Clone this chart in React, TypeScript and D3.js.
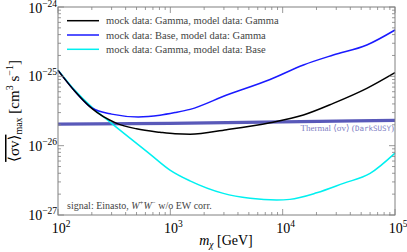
import React, { useEffect, useRef } from 'react';
import * as d3 from 'd3';

// masses in GeV, cross sections in cm^3 s^-1
const massGG = [100, 140, 200, 333, 500, 808, 1100, 1500, 3177, 7730, 15300, 28200, 56100, 100000];
const sigmaGG = [1.22e-25, 6.2e-26, 3.45e-26, 2.1e-26, 1.75e-26, 1.56e-26, 1.48e-26, 1.46e-26, 1.7e-26, 2.14e-26, 2.77e-26, 4.07e-26, 6.7e-26, 1.13e-25];

const massBG = [100, 140, 200, 300, 518, 808, 1100, 1500, 3177, 7730, 15300, 28200, 56100, 100000];
const sigmaBG = [1.22e-25, 6.2e-26, 3.5e-26, 2.85e-26, 2.6e-26, 2.75e-26, 3.0e-26, 3.34e-26, 5.37e-26, 9.0e-26, 1.46e-25, 2.03e-25, 2.83e-25, 4.66e-25];

const massGB = [100, 140, 200, 300, 659, 993, 1496, 2963, 5130, 8850, 11600, 20100, 34700, 60000, 100000];
const sigmaGB = [1.24e-25, 6.4e-26, 3.6e-26, 2.1e-26, 7.57e-27, 4.45e-27, 3.11e-27, 2.05e-27, 1.74e-27, 1.64e-27, 1.68e-27, 2.09e-27, 2.86e-27, 3.98e-27, 7.8e-27];

const massThermal = [100, 1000, 10000, 100000];
const sigmaThermal = [2.05e-26, 2.1e-26, 2.2e-26, 2.32e-26];

const xTicks = [100, 1000, 10000, 100000];
const yTicks = [1e-27, 1e-26, 1e-25, 1e-24];

const legendLabels = [
  'mock data: Gamma, model data: Gamma',
  'mock data: Base, model data: Gamma',
  'mock data: Gamma, model data: Base',
];
const legendColors = ['#000000', '#1a1aff', '#00f0f0'];

const W = 407;
const H = 252;
const margin = { left: 58, right: 12, top: 7, bottom: 37 };
const serif = 'Liberation Serif, DejaVu Serif, serif';

const App: React.FC = () => {
  const svgRef = useRef<SVGSVGElement>(null);

  useEffect(() => {
    if (!svgRef.current) return;
    const svg = d3.select(svgRef.current);
    svg.selectAll('*').remove();

    const x0 = margin.left;
    const x1 = W - margin.right;
    const y0 = margin.top;
    const y1 = H - margin.bottom;

    const x = d3.scaleLog().domain([100, 100000]).range([x0, x1]);
    const y = d3.scaleLog().domain([1e-27, 1e-24]).range([y1, y0]);

    const plot = svg.append('g');

    const line = d3.line<[number, number]>()
      .x(d => x(d[0]))
      .y(d => y(d[1]))
      .curve(d3.curveMonotoneX);

    // Thermal relic line
    plot.append('path')
      .datum(massThermal.map((m, i) => [m, sigmaThermal[i]] as [number, number]))
      .attr('fill', 'none')
      .attr('stroke', '#3030a8')
      .attr('stroke-opacity', 0.8)
      .attr('stroke-width', 3.2)
      .attr('d', line);

    svg.append('text')
      .attr('x', x1 - 1)
      .attr('y', y(sigmaThermal[3]) + 11)
      .attr('text-anchor', 'end')
      .attr('font-family', serif)
      .attr('font-size', 9)
      .attr('fill', '#8080c4')
      .call(t => {
        t.append('tspan').text('Thermal ⟨σv⟩ (');
        t.append('tspan').attr('font-family', 'DejaVu Sans Mono, monospace').attr('font-size', 7.5).text('DarkSUSY');
        t.append('tspan').text(')');
      });

    const series: [number[], number[], string][] = [
      [massGB, sigmaGB, legendColors[2]],
      [massBG, sigmaBG, legendColors[1]],
      [massGG, sigmaGG, legendColors[0]],
    ];
    series.forEach(([ms, vs, c]) => {
      plot.append('path')
        .datum(ms.map((m, i) => [m, vs[i]] as [number, number]))
        .attr('fill', 'none')
        .attr('stroke', c)
        .attr('stroke-width', 1.5)
        .attr('d', line);
    });

    // Frame
    svg.append('rect')
      .attr('x', x0).attr('y', y0)
      .attr('width', x1 - x0).attr('height', y1 - y0)
      .attr('fill', 'none')
      .attr('stroke', '#808080')
      .attr('stroke-width', 1);

    // Ticks (inward, all sides)
    const ticks = svg.append('g').attr('stroke', '#808080').attr('stroke-width', 0.8);
    const minorX: number[] = [];
    for (let e = 2; e < 5; e++) for (let k = 2; k < 10; k++) minorX.push(k * Math.pow(10, e));
    const minorY: number[] = [];
    for (let e = -27; e < -24; e++) for (let k = 2; k < 10; k++) minorY.push(k * Math.pow(10, e));

    xTicks.forEach(t => {
      ticks.append('line').attr('x1', x(t)).attr('x2', x(t)).attr('y1', y1).attr('y2', y1 - 6);
      ticks.append('line').attr('x1', x(t)).attr('x2', x(t)).attr('y1', y0).attr('y2', y0 + 6);
    });
    minorX.forEach(t => {
      ticks.append('line').attr('x1', x(t)).attr('x2', x(t)).attr('y1', y1).attr('y2', y1 - 3);
      ticks.append('line').attr('x1', x(t)).attr('x2', x(t)).attr('y1', y0).attr('y2', y0 + 3);
    });
    yTicks.forEach(t => {
      ticks.append('line').attr('x1', x0).attr('x2', x0 + 6).attr('y1', y(t)).attr('y2', y(t));
      ticks.append('line').attr('x1', x1).attr('x2', x1 - 6).attr('y1', y(t)).attr('y2', y(t));
    });
    minorY.forEach(t => {
      ticks.append('line').attr('x1', x0).attr('x2', x0 + 3).attr('y1', y(t)).attr('y2', y(t));
      ticks.append('line').attr('x1', x1).attr('x2', x1 - 3).attr('y1', y(t)).attr('y2', y(t));
    });

    // Tick labels
    xTicks.forEach(t => {
      const txt = svg.append('text')
        .attr('x', x(t) + 3)
        .attr('y', y1 + 18)
        .attr('text-anchor', 'middle')
        .attr('font-family', serif)
        .attr('font-size', 14);
      txt.append('tspan').text('10');
      txt.append('tspan').attr('font-size', 9.5).attr('dy', -6).text(String(Math.round(Math.log10(t))));
    });
    yTicks.forEach(t => {
      const txt = svg.append('text')
        .attr('x', x0 - 1)
        .attr('y', Math.max(y(t) + 5, 13))
        .attr('text-anchor', 'end')
        .attr('font-family', serif)
        .attr('font-size', 14);
      txt.append('tspan').text('10');
      txt.append('tspan').attr('font-size', 9.5).attr('dy', -6).text(String(Math.round(Math.log10(t))).replace('-', '−'));
    });

    // Axis labels
    const xl = svg.append('text')
      .attr('x', 226)
      .attr('y', 245)
      .attr('text-anchor', 'middle')
      .attr('font-family', serif)
      .attr('font-size', 14);
    xl.append('tspan').attr('font-style', 'italic').text('m');
    xl.append('tspan').attr('font-style', 'italic').attr('font-size', 9.5).attr('dy', 3).text('χ');
    xl.append('tspan').attr('dy', -3).text('  [GeV]');

    const yl = svg.append('text')
      .attr('transform', `translate(19,${(y0 + y1) / 2}) rotate(-90)`)
      .attr('text-anchor', 'middle')
      .attr('font-family', serif)
      .attr('font-size', 15);
    yl.append('tspan').attr('text-decoration', 'overline').text('⟨σv⟩');
    yl.append('tspan').attr('font-size', 10).attr('dy', 3).text('max');
    yl.append('tspan').attr('dy', -3).text('  [cm');
    yl.append('tspan').attr('font-size', 10).attr('dy', -6).text('3');
    yl.append('tspan').attr('dy', 6).text(' s');
    yl.append('tspan').attr('font-size', 10).attr('dy', -6).text('−1');
    yl.append('tspan').attr('dy', 6).text(']');

    // Legend
    legendLabels.forEach((lab, i) => {
      const ly = 20.7 + i * 14.3;
      svg.append('line')
        .attr('x1', 67).attr('x2', 99).attr('y1', ly).attr('y2', ly)
        .attr('stroke', legendColors[i]).attr('stroke-width', 1.5);
      svg.append('text')
        .attr('x', 106).attr('y', ly + 3.5)
        .attr('font-family', serif)
        .attr('font-size', 10.5)
        .attr('fill', '#444')
        .text(lab);
    });

    // Signal note
    const note = svg.append('text')
      .attr('x', 67).attr('y', 209)
      .attr('font-family', serif)
      .attr('font-size', 10)
      .attr('fill', '#444');
    note.append('tspan').text('signal: Einasto, ');
    note.append('tspan').attr('font-style', 'italic').text('W');
    note.append('tspan').attr('font-size', 7).attr('dy', -4).text('+');
    note.append('tspan').attr('font-style', 'italic').attr('dy', 4).text('W');
    note.append('tspan').attr('font-size', 7).attr('dy', -4).text('−');
    note.append('tspan').attr('dy', 4).text(' w/o EW corr.');
  }, []);

  return (
    <svg
      ref={svgRef}
      width={W}
      height={H}
      style={{ position: 'absolute', left: 0, top: 0, background: '#fff' }}
    />
  );
};

export default App;
